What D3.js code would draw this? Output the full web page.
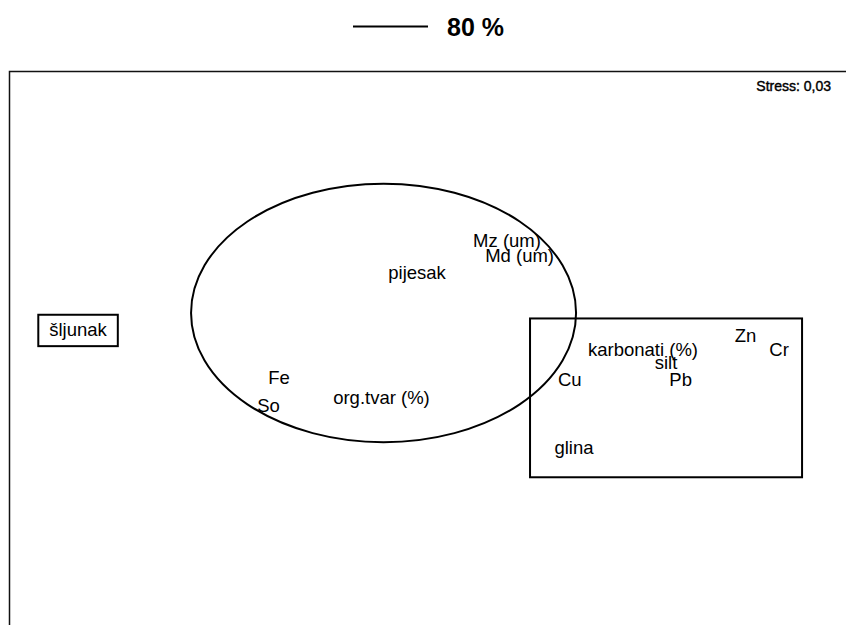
<!DOCTYPE html>
<html><head><meta charset="utf-8">
<script src="https://cdn.jsdelivr.net/npm/d3@7"></script>
<style>body{margin:0;background:#fff}svg{display:block}text{font-family:"Liberation Sans",Arial,sans-serif}</style>
</head><body><div id="c"></div>
<script>
const labels = ["šljunak","pijesak","Mz (um)","Md (um)","Fe","So","org.tvar (%)","karbonati (%)","silt","Pb","Cu","Zn","Cr","glina"];
const dim1 = [-1.67,-0.05,0.38,0.44,-0.71,-0.76,-0.22,1.03,1.14,1.21,0.68,1.52,1.68,0.70];
const dim2 = [0.10,0.41,0.58,0.50,-0.16,-0.31,-0.27,-0.01,-0.08,-0.17,-0.17,0.07,-0.01,-0.54];
const groupEllipse = {cx:-0.21, cy:0.19, rx:0.92, ry:0.70};
const groupRect = {x0:0.49, x1:1.79, y0:-0.70, y1:0.16};
const boxSljunak = {x0:-1.86, x1:-1.48, y0:0.01, y1:0.18};
const title = "80 %";
const stress = "Stress: 0,03";

const W=846,H=625;
const svg=d3.select("#c").append("svg").attr("width",W).attr("height",H);
const x=d3.scaleLinear().domain([-2,2]).range([9,846]);
const y=d3.scaleLinear().domain([-1.5,1.5]).range([625,71]);

// legend/title
svg.append("line").attr("x1",353).attr("x2",428).attr("y1",26.5).attr("y2",26.5).attr("stroke","#000").attr("stroke-width",2);
svg.append("text").attr("x",447).attr("y",36).attr("font-size",25).attr("font-weight","bold").text(title);

// frame
svg.append("path").attr("d",`M${x(-2)+0.5},${H}V${y(1.5)+0.5}H${W}`).attr("fill","none").attr("stroke","#111").attr("stroke-width",1.5);
svg.append("text").attr("x",831).attr("y",91).attr("text-anchor","end").attr("font-size",14)
  .attr("stroke","#000").attr("stroke-width",0.4).text(stress);

// groups
svg.append("ellipse").attr("cx",x(groupEllipse.cx)).attr("cy",y(groupEllipse.cy))
  .attr("rx",x(groupEllipse.rx)-x(0)).attr("ry",y(0)-y(groupEllipse.ry))
  .attr("fill","none").attr("stroke","#000").attr("stroke-width",2);
[groupRect,boxSljunak].forEach(b=>{
  svg.append("rect").attr("x",x(b.x0)).attr("y",y(b.y1)).attr("width",x(b.x1)-x(b.x0)).attr("height",y(b.y0)-y(b.y1))
    .attr("fill","none").attr("stroke","#000").attr("stroke-width",2);
});

svg.selectAll("text.lab").data(labels).enter().append("text").attr("class","lab")
  .attr("x",(d,i)=>x(dim1[i])).attr("y",(d,i)=>y(dim2[i])).attr("dy","0.35em")
  .attr("text-anchor","middle").attr("font-size",18.5).attr("fill","#000").text(d=>d);
</script></body></html>
